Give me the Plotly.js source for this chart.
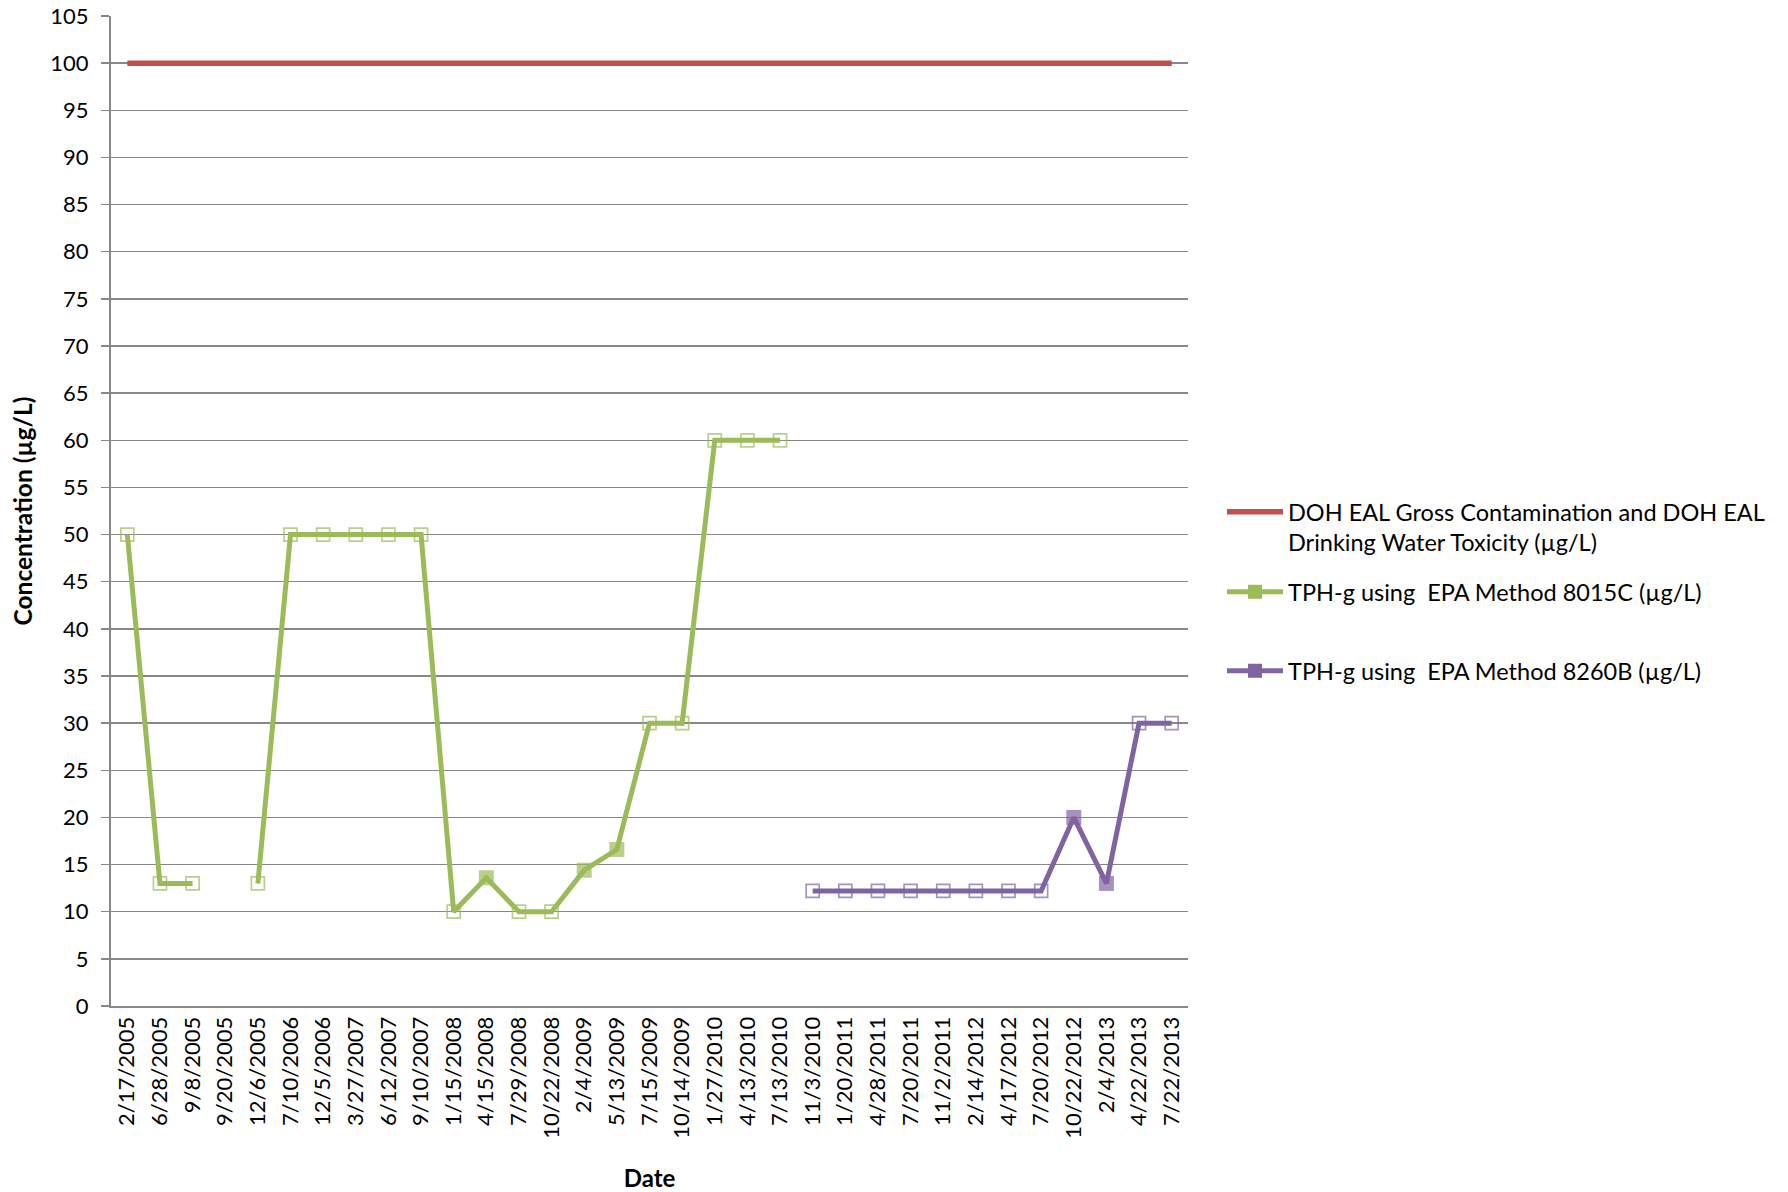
<!DOCTYPE html>
<html><head><meta charset="utf-8">
<script src="https://cdn.plot.ly/plotly-3.0.1.min.js"></script>
<style>html,body{margin:0;padding:0;background:#fff;}#chart{width:1788px;height:1192px;}</style>
</head><body><div id="chart"></div>
<script>
const dates = ["2/17/2005","6/28/2005","9/8/2005","9/20/2005","12/6/2005","7/10/2006","12/5/2006","3/27/2007","6/12/2007","9/10/2007","1/15/2008","4/15/2008","7/29/2008","10/22/2008","2/4/2009","5/13/2009","7/15/2009","10/14/2009","1/27/2010","4/13/2010","7/13/2010","11/3/2010","1/20/2011","4/28/2011","7/20/2011","11/2/2011","2/14/2012","4/17/2012","7/20/2012","10/22/2012","2/4/2013","4/22/2013","7/22/2013"];
const ealValues = [100,100,100,100,100,100,100,100,100,100,100,100,100,100,100,100,100,100,100,100,100,100,100,100,100,100,100,100,100,100,100,100,100];
const tph8015cValues = [50,13,13,null,13,50,50,50,50,50,10,13.6,10,10,14.4,16.6,30,30,60,60,60,null,null,null,null,null,null,null,null,null,null,null,null];
const tph8015cDetected = [0,0,0,0,0,0,0,0,0,0,0,1,0,0,1,1,0,0,0,0,0,0,0,0,0,0,0,0,0,0,0,0,0];
const tph8260bValues = [null,null,null,null,null,null,null,null,null,null,null,null,null,null,null,null,null,null,null,null,null,12.2,12.2,12.2,12.2,12.2,12.2,12.2,12.2,20,13,30,30];
const tph8260bDetected = [0,0,0,0,0,0,0,0,0,0,0,0,0,0,0,0,0,0,0,0,0,0,0,0,0,0,0,0,0,1,1,0,0];
const yTicks = [0,5,10,15,20,25,30,35,40,45,50,55,60,65,70,75,80,85,90,95,100,105];

const FONT = "Lato, 'Noto Sans', sans-serif";
const RED = "#C0504D", GREEN = "#9BBB59", GREEN_OPEN = "#A8C96E", PURPLE = "#8064A2";
const GRID = "#888888";

const sym = d => d.map(v => v ? "square" : "square-open");
const sz = d => d.map(v => v ? 15 : 13);
const lw = d => d.map(v => v ? 0 : 1.7);

const traces = [
  {x: dates, y: ealValues, mode: "lines", line: {color: RED, width: 5.5}, showlegend: false, hoverinfo: "skip"},
  {x: dates, y: tph8015cValues, mode: "lines+markers", line: {color: GREEN, width: 5},
   marker: {symbol: sym(tph8015cDetected), size: sz(tph8015cDetected), color: GREEN,
            line: {color: GREEN_OPEN, width: lw(tph8015cDetected)}}, showlegend: false, hoverinfo: "skip"},
  {x: dates, y: tph8260bValues, mode: "lines+markers", line: {color: PURPLE, width: 5},
   marker: {symbol: sym(tph8260bDetected), size: sz(tph8260bDetected), color: PURPLE,
            line: {color: PURPLE, width: lw(tph8260bDetected)}}, showlegend: false, hoverinfo: "skip"},
  {x: [null], y: [null], mode: "lines", line: {color: RED, width: 5.5},
   name: "DOH EAL Gross Contamination and DOH EAL<br>Drinking Water Toxicity (µg/L)", legend: "legend"},
  {x: [null], y: [null], mode: "lines+markers", line: {color: GREEN, width: 5},
   marker: {symbol: "square", size: 14, color: GREEN}, name: "TPH-g using  EPA Method 8015C (µg/L)", legend: "legend2"},
  {x: [null], y: [null], mode: "lines+markers", line: {color: PURPLE, width: 5},
   marker: {symbol: "square", size: 14, color: PURPLE}, name: "TPH-g using  EPA Method 8260B (µg/L)", legend: "legend3"}
];

const legendBase = {xref: "container", yref: "container", xanchor: "left", yanchor: "top",
  bgcolor: "rgba(0,0,0,0)", borderwidth: 0, font: {family: FONT, size: 23.5, color: "#000"},
  itemwidth: 56, valign: "top", itemclick: false, itemdoubleclick: false};

const layout = {
  width: 1788, height: 1192,
  paper_bgcolor: "#fff", plot_bgcolor: "#fff",
  margin: {l: 111, r: 600, t: 16, b: 186},
  font: {family: FONT, size: 22, color: "#000"},
  xaxis: {type: "category", categoryorder: "array", categoryarray: dates, range: [-0.5, dates.length - 0.5],
    tickangle: -90, showgrid: false, showline: true, linecolor: GRID, linewidth: 2, ticks: "",
    tickfont: {family: FONT, size: 22, color: "#000"}, zeroline: false,
    title: {text: "<b>Date</b>", font: {family: FONT, size: 24, color: "#000"}, standoff: 36}},
  yaxis: {range: [0, 105], tickmode: "array", tickvals: yTicks, showgrid: true, gridcolor: GRID, gridwidth: 1.5,
    showline: true, linecolor: GRID, linewidth: 2, ticks: "outside", ticklen: 8, tickcolor: GRID, tickwidth: 1.5,
    ticklabelstandoff: 8, zeroline: false, tickfont: {family: FONT, size: 22, color: "#000"},
    title: {text: "<b>Concentration (µg/L)</b>", font: {family: FONT, size: 24.5, color: "#000"}, standoff: 11}},
  legend: Object.assign({}, legendBase, {x: 1222/1788, y: 1 - 490/1192}),
  legend2: Object.assign({}, legendBase, {x: 1222/1788, y: 1 - 570/1192}),
  legend3: Object.assign({}, legendBase, {x: 1222/1788, y: 1 - 649/1192}),
  hovermode: false
};

Plotly.newPlot("chart", traces, layout, {staticPlot: true, displayModeBar: false});
</script>
</body></html>
